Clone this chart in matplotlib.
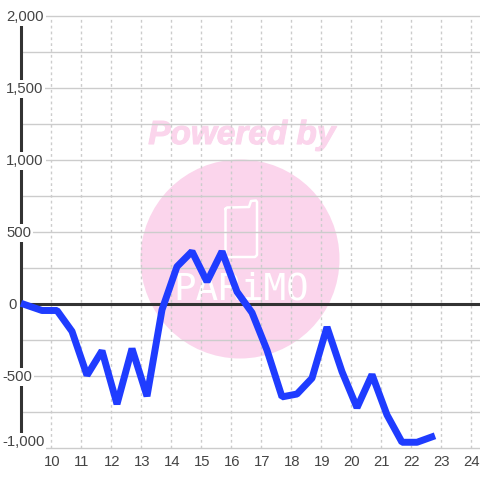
import matplotlib
matplotlib.use("Agg")
import matplotlib.pyplot as plt
import matplotlib.patheffects as pe
from matplotlib.patches import Circle
from matplotlib.ticker import FuncFormatter
from matplotlib.transforms import blended_transform_factory

hours = [9.0, 9.7, 10.2, 10.7, 11.2, 11.7, 12.2, 12.7, 13.2, 13.7, 14.2, 14.7, 15.2, 15.7,
         16.2, 16.7, 17.2, 17.7, 18.2, 18.7, 19.2, 19.7, 20.2, 20.7, 21.2, 21.7, 22.2, 22.8]
values = [5, -45, -45, -190, -495, -325, -695, -310, -640, -40, 260, 365, 155, 365,
          85, -60, -320, -645, -625, -515, -160, -470, -720, -490, -770, -960, -960, -915]
x_ticks = list(range(10, 25))
y_major = [2000, 1500, 1000, 500, 0, -500, -1000]
y_minor = [1750, 1250, 750, 250, -250, -750]

plt.rcParams['font.family'] = ['Liberation Sans', 'DejaVu Sans']

fig = plt.figure(figsize=(4.8, 4.8), dpi=100)
ax = fig.add_axes([0, 0, 1, 1])
ax.set_xlim(8.30, 24.30)
ax.set_ylim(-1222, 2111)
ax.axis('off')


def px(x, y):
    # reference pixels to axes fraction, only used for the watermark
    return x / 480, 1 - y / 480


# watermark
pink = '#fbd5ec'
ax.add_patch(Circle(px(240, 259), 99.5 / 480, transform=ax.transAxes, color=pink, lw=0, zorder=1))
ax.text(*px(242, 135.5), 'Powered by', transform=ax.transAxes, color=pink, fontsize=24,
        fontweight='bold', fontstyle='italic', ha='center', va='center', zorder=1,
        path_effects=[pe.withStroke(linewidth=0.8, foreground=pink)])
phone = [px(225.5, 209), px(227, 207.5), px(249, 207), px(251, 201), px(256, 200.5), px(257, 202),
         px(257, 255), px(255, 257), px(227, 257), px(225.5, 255), px(225.5, 209)]
ax.plot([p[0] for p in phone], [p[1] for p in phone], transform=ax.transAxes, color='white', lw=1.8,
        solid_joinstyle='round', zorder=1)
ax.text(*px(241, 290), 'PARiMO', transform=ax.transAxes, color='white', fontsize=27,
        family=['DejaVu Sans Mono', 'DejaVu Sans'], ha='center', va='center', zorder=1)

# grid
ax.hlines(y_minor, 9, 24.30, color='#cccccc', lw=1, zorder=2)
ax.hlines([v for v in y_major if v != 0], 9, 24.30, color='#cccccc', lw=1, zorder=2)
ax.vlines(x_ticks, -1000, 2000, color='#cccccc', lw=1, linestyles=(0, (2, 2.2)), zorder=2)

# axis lines
ax.hlines(0, 9, 24.30, color='#333333', lw=2.2, zorder=3)
ax.vlines(9, -1000, 2000, color='#333333', lw=2.2, zorder=3)

ax.plot(hours, values, color='#1f3cff', lw=5, solid_joinstyle='bevel', solid_capstyle='butt', zorder=4)

# tick labels sit inside the plot, on white boxes that cut the axis line
fmt = FuncFormatter(lambda v, pos: f'{int(v):,}')
trans = blended_transform_factory(ax.transAxes, ax.transData)
box = dict(fc='white', ec='none', pad=1.5)
for v in y_major:
    left = 2 if v < 0 else (8 if v == 0 else 6)
    y = v + 40 if v == -1000 else v - 6
    ax.text(left / 480, y, fmt(v), transform=trans, color='#444444', fontsize=10.7, ha='left', va='center',
            bbox=box, zorder=5)
for h in x_ticks:
    ax.text(h + 0.03, -1095, str(h), color='#444444', fontsize=10.7, ha='center', va='center', zorder=5)

fig.savefig('out.png', dpi=100)
plt.close(fig)
